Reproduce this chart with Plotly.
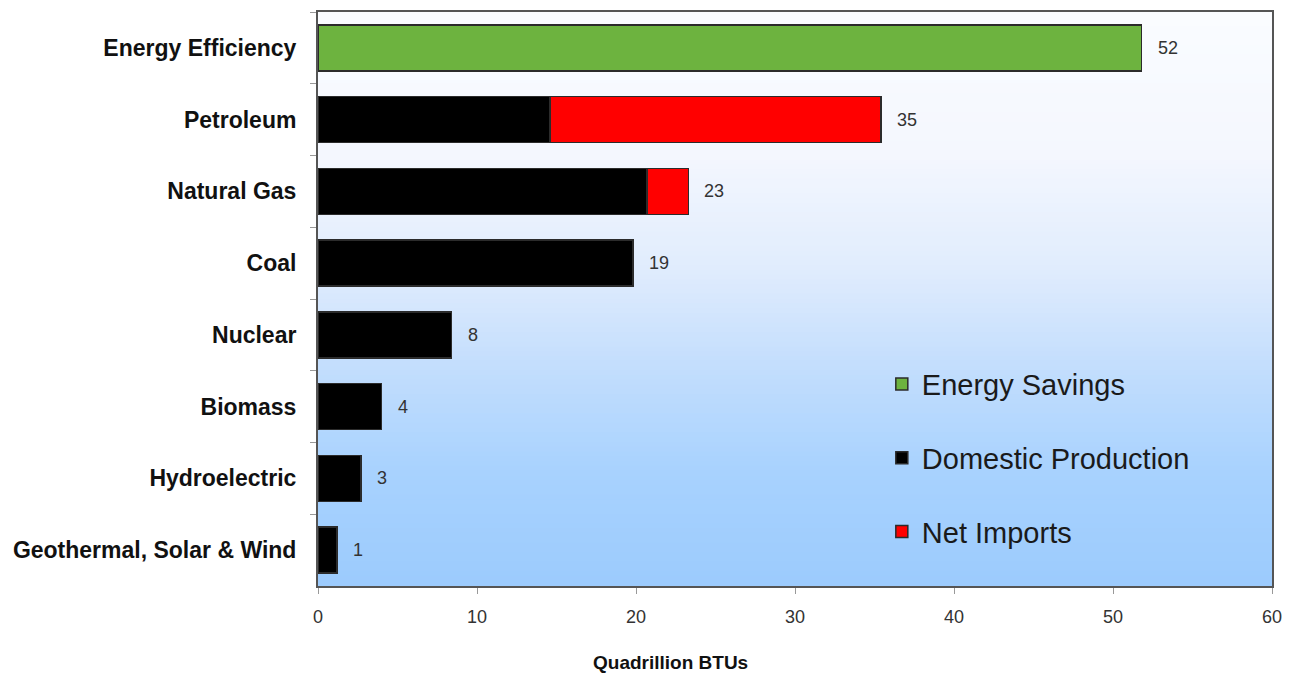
import plotly.graph_objects as go

categories = ["Energy Efficiency", "Petroleum", "Natural Gas", "Coal", "Nuclear",
              "Biomass", "Hydroelectric", "Geothermal, Solar & Wind"]
energy_savings = [51.8, 0, 0, 0, 0, 0, 0, 0]
domestic_production = [0, 14.6, 20.7, 19.8, 8.4, 4.0, 2.7, 1.2]
net_imports = [0, 20.8, 2.6, 0, 0, 0, 0, 0]
total_labels = ["52", "35", "23", "19", "8", "4", "3", "1"]
x_ticks = [0, 10, 20, 30, 40, 50, 60]

totals = [a + b + c for a, b, c in zip(energy_savings, domestic_production, net_imports)]

FONT = "Liberation Sans, Arial"
fig = go.Figure()
bar_line = dict(color="#2b2b2b", width=1.5)
fig.add_trace(go.Bar(y=categories, x=energy_savings, orientation="h", name="Energy Savings",
                     marker=dict(color="#6db33f", line=bar_line), legendgroup="a"))
fig.add_trace(go.Bar(y=categories, x=domestic_production, orientation="h", name="Domestic Production",
                     marker=dict(color="#000000", line=bar_line), legendgroup="b"))
fig.add_trace(go.Bar(y=categories, x=net_imports, orientation="h", name="Net Imports",
                     marker=dict(color="#ff0000", line=bar_line), legendgroup="c"))

for cat, tot, lab in zip(categories, totals, total_labels):
    fig.add_annotation(x=tot, y=cat, text=lab, showarrow=False, xanchor="left",
                       xshift=14, font=dict(family=FONT, size=18, color="#333333"))

fig.add_annotation(xref="paper", yref="paper", x=0.369, y=-0.134, xanchor="center", yanchor="middle",
                   text="<b>Quadrillion BTUs</b>", showarrow=False,
                   font=dict(family=FONT, size=19, color="#111111"))

# gradient background
stops = [(0.0, (250, 252, 255)), (0.25, (244, 247, 254)), (0.45, (224, 236, 253)),
         (0.6, (198, 223, 253)), (0.8, (168, 210, 254)), (1.0, (156, 203, 253))]

def col(t):
    for (t0, c0), (t1, c1) in zip(stops[:-1], stops[1:]):
        if t0 <= t <= t1:
            f = (t - t0) / (t1 - t0)
            return "rgb(%d,%d,%d)" % tuple(round(a + (b - a) * f) for a, b in zip(c0, c1))
    return "rgb(156,203,253)"

n = 120
shapes = []
for i in range(n):
    t = (i + 0.5) / n
    shapes.append(dict(type="rect", xref="x domain", yref="y domain", x0=0, x1=1,
                       y0=1 - (i + 1) / n - 0.001, y1=1 - i / n + 0.001,
                       fillcolor=col(t), line=dict(width=0), layer="below"))

fig.update_layout(
    width=1298, height=679,
    margin=dict(l=318, r=26, t=10, b=93),
    paper_bgcolor="white", plot_bgcolor="rgba(0,0,0,0)",
    barmode="stack", bargap=0.36,
    shapes=shapes,
    font=dict(family=FONT, color="#222222"),
    showlegend=True,
    legend=dict(x=0.591, y=0.396, xanchor="left", yanchor="top", bgcolor="rgba(0,0,0,0)",
                font=dict(size=29, color="#1a1a1a"), traceorder="grouped", tracegroupgap=33,
                itemwidth=30),
    xaxis=dict(range=[0, 60], tickvals=x_ticks, ticks="outside", ticklen=6, tickcolor="#999999",
               showgrid=False, zeroline=False, showline=True, linecolor="#555555", linewidth=2,
               mirror=True, tickfont=dict(size=18, color="#333333"), ticklabelstandoff=7),
    yaxis=dict(categoryorder="array", categoryarray=categories, autorange="reversed",
               tickson="boundaries", ticks="outside", ticklen=6, tickcolor="#999999",
               showgrid=False, zeroline=False, showline=True, linecolor="#555555", linewidth=2,
               mirror=True, tickfont=dict(size=23, color="#111111"),
               tickprefix="<b>", ticksuffix="</b>", ticklabelstandoff=15),
)

fig.write_html("out.html")
